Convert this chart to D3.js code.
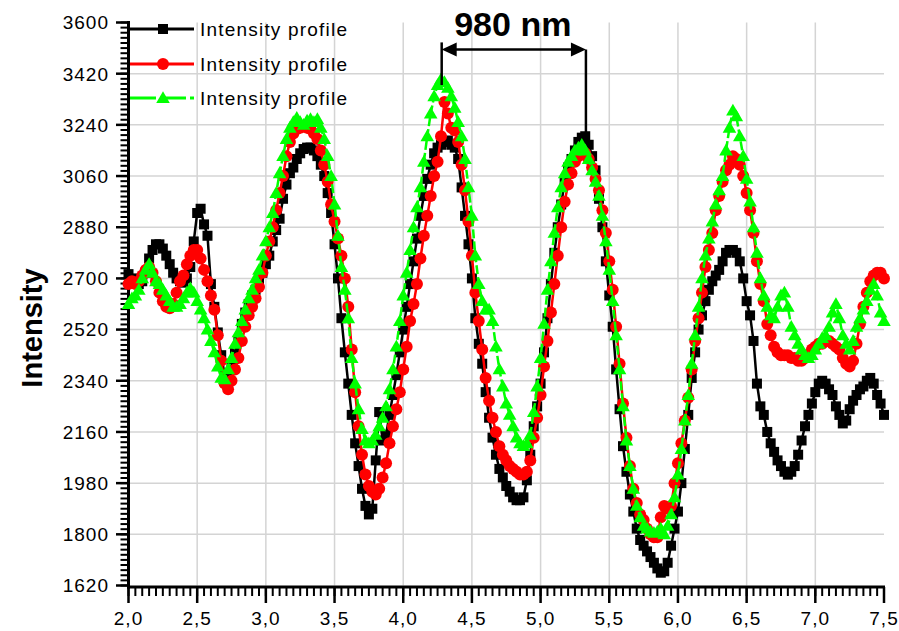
<!DOCTYPE html>
<html><head><meta charset="utf-8">
<script src="https://cdn.jsdelivr.net/npm/d3@7"></script>
<style>body{margin:0;background:#fff}svg{display:block}text{font-family:"Liberation Sans",Arial,sans-serif}</style>
</head><body><svg id="c" width="899" height="631"></svg>
<script>
// x positions: 2.000 .. 7.500 in steps of 0.025 (221 samples)
const xStart = 2.0, xStep = 0.025;
const blackVals = [
2715,2700,2690,2680,2690,2720,2770,2800,2820,2820,
2805,2780,2750,2720,2700,2690,2685,2700,2740,2830,
2930,2945,2890,2850,2680,2600,2510,2430,2360,2350,
2400,2440,2480,2540,2580,2610,2640,2660,2690,2720,
2750,2780,2830,2870,2910,2980,3030,3070,3090,3120,
3140,3155,3160,3160,3150,3130,3100,3060,3000,2930,
2820,2700,2560,2440,2330,2220,2120,2040,1960,1900,
1870,1890,2060,2230,2130,2150,2220,2290,2360,2440,
2520,2600,2680,2760,2840,2920,2990,3050,3100,3140,
3160,3170,3180,3185,3170,3160,3120,3020,2920,2820,
2700,2560,2470,2400,2300,2210,2140,2080,2030,2000,
1970,1950,1930,1920,1920,1930,1990,2080,2180,2250,
2330,2440,2560,2680,2790,2880,2960,3040,3090,3120,
3150,3180,3195,3200,3170,3130,3080,2980,2880,2760,
2640,2530,2380,2240,2110,2020,1940,1880,1820,1780,
1760,1740,1720,1700,1680,1665,1670,1700,1760,1820,
1880,1980,2100,2220,2350,2440,2520,2570,2620,2660,
2690,2710,2730,2760,2790,2800,2800,2790,2760,2700,
2620,2570,2480,2330,2250,2220,2160,2120,2090,2060,
2040,2020,2010,2020,2040,2080,2130,2180,2220,2260,
2300,2330,2340,2330,2310,2290,2250,2220,2190,2200,
2240,2270,2290,2310,2320,2340,2350,2330,2290,2260,
2220];
const redVals = [
2680,2690,2680,2690,2710,2730,2740,2720,2690,2650,
2620,2600,2595,2610,2650,2690,2710,2750,2780,2800,
2800,2770,2730,2690,2640,2590,2500,2410,2330,2310,
2340,2380,2420,2480,2530,2570,2600,2630,2670,2720,
2780,2830,2880,2940,3000,3060,3130,3180,3210,3225,
3230,3235,3230,3225,3210,3190,3150,3100,3040,2960,
2900,2840,2780,2700,2600,2450,2300,2180,2080,2010,
1970,1950,1940,1960,2000,2050,2120,2180,2240,2300,
2380,2460,2550,2610,2680,2770,2850,2920,2990,3060,
3110,3200,3320,3280,3230,3220,3180,3100,3010,2900,
2780,2650,2550,2450,2350,2270,2210,2160,2110,2080,
2060,2040,2030,2020,2010,2010,2020,2060,2140,2210,
2290,2390,2480,2580,2680,2780,2880,2970,3030,3070,
3110,3130,3140,3140,3120,3090,3050,3010,2940,2860,
2760,2660,2530,2400,2260,2140,2040,1960,1910,1870,
1850,1820,1800,1790,1790,1860,1900,1890,1900,1980,
2050,2120,2200,2280,2380,2480,2560,2650,2740,2800,
2860,2940,2990,3040,3080,3100,3130,3120,3100,3060,
3000,2940,2860,2760,2680,2620,2540,2500,2460,2440,
2430,2430,2430,2420,2420,2410,2410,2420,2430,2450,
2460,2470,2470,2480,2480,2470,2460,2450,2420,2400,
2390,2410,2470,2540,2600,2650,2690,2710,2720,2720,
2700];
const greenVals = [
2610,2630,2640,2660,2700,2730,2750,2720,2690,2680,
2660,2640,2620,2600,2600,2610,2630,2650,2665,2650,
2620,2590,2560,2520,2480,2440,2390,2350,2345,2380,
2420,2470,2510,2550,2590,2630,2660,2700,2730,2780,
2830,2880,2930,3000,3070,3130,3190,3230,3250,3265,
3250,3240,3255,3260,3250,3260,3230,3190,3130,3060,
2960,2850,2740,2660,2560,2420,2330,2240,2170,2130,
2120,2130,2150,2180,2210,2250,2310,2380,2460,2550,
2640,2720,2800,2880,2950,3020,3110,3200,3280,3340,
3380,3400,3390,3370,3340,3300,3250,3200,3120,3020,
2920,2780,2680,2620,2590,2590,2550,2460,2380,2320,
2260,2220,2180,2140,2120,2110,2120,2150,2230,2320,
2420,2540,2660,2760,2860,2950,3020,3070,3110,3130,
3150,3160,3170,3150,3120,3080,3040,2990,2920,2830,
2730,2620,2500,2380,2250,2130,2040,1960,1900,1860,
1830,1820,1810,1805,1810,1820,1800,1830,1870,1930,
2010,2100,2200,2290,2400,2500,2600,2700,2780,2840,
2900,2960,3010,3060,3150,3230,3290,3270,3200,3130,
3050,2970,2880,2790,2700,2640,2600,2570,2560,2600,
2640,2650,2600,2530,2500,2470,2450,2430,2420,2430,
2450,2470,2490,2500,2530,2580,2610,2560,2500,2470,
2450,2480,2530,2560,2590,2620,2660,2680,2640,2580,
2550];
const seriesNames = ["Intensity profile","Intensity profile","Intensity profile"];
const xTickVals = [2.0,2.5,3.0,3.5,4.0,4.5,5.0,5.5,6.0,6.5,7.0,7.5];
const xTickLabels = ["2,0","2,5","3,0","3,5","4,0","4,5","5,0","5,5","6,0","6,5","7,0","7,5"];
const yTickVals = [1620,1800,1980,2160,2340,2520,2700,2880,3060,3240,3420,3600];
const yTitle = "Intensity";
const annText = "980 nm";
const annX = [4.28, 5.33];
const annArrowY = 3505;
const annLeftV = [3530, 3380];
const annRightV = [3505, 3200];

const svg = d3.select("#c");
const x = d3.scaleLinear().domain([2, 7.5]).range([128.5, 884]);
const y = d3.scaleLinear().domain([1620, 3600]).range([585.5, 22.5]);

// grid
const gridC = "#d4d4d4";
svg.append("g").selectAll("line").data(xTickVals.filter(v => v > 2 && v < 7.5)).join("line")
  .attr("x1", d => x(d)).attr("x2", d => x(d)).attr("y1", y(3600)).attr("y2", y(1620))
  .attr("stroke", gridC).attr("stroke-width", 1.5);
svg.append("g").selectAll("line").data(yTickVals.filter(v => v > 1620 && v < 3600)).join("line")
  .attr("x1", x(2)).attr("x2", x(7.5)).attr("y1", d => y(d)).attr("y2", d => y(d))
  .attr("stroke", gridC).attr("stroke-width", 1.5);

// axes
const yMinor = d3.range(1620, 3600.1, 18);
const xMinor = d3.range(0, 111).map(i => 2 + i * 0.05);
const axisY0 = 587;
const yAx = svg.append("g");
yAx.selectAll("line.mn").data(yMinor).join("line").attr("class","mn")
  .attr("x1", 120.5).attr("x2", 129).attr("y1", d => y(d)).attr("y2", d => y(d))
  .attr("stroke", "#000").attr("stroke-width", 2);
yAx.selectAll("line.mj").data(yTickVals).join("line").attr("class","mj")
  .attr("x1", 116).attr("x2", 129).attr("y1", d => y(d)).attr("y2", d => y(d))
  .attr("stroke", "#000").attr("stroke-width", 2.5);
yAx.append("line").attr("x1", 128.5).attr("x2", 128.5).attr("y1", 21).attr("y2", axisY0 + 1.5)
  .attr("stroke", "#000").attr("stroke-width", 3);
yAx.selectAll("text").data(yTickVals).join("text")
  .attr("x", 109).attr("y", d => y(d)).attr("dy", "0.36em").attr("text-anchor", "end")
  .attr("font-size", 19).attr("letter-spacing", 1).text(d => d);

const xAx = svg.append("g");
xAx.selectAll("line.mn").data(xMinor).join("line").attr("class","mn")
  .attr("x1", d => x(d)).attr("x2", d => x(d)).attr("y1", axisY0).attr("y2", axisY0 + 9)
  .attr("stroke", "#000").attr("stroke-width", 2);
xAx.selectAll("line.mj").data(xTickVals).join("line").attr("class","mj")
  .attr("x1", d => x(d)).attr("x2", d => x(d)).attr("y1", axisY0).attr("y2", axisY0 + 16)
  .attr("stroke", "#000").attr("stroke-width", 2.5);
xAx.append("line").attr("x1", 127).attr("x2", 885).attr("y1", axisY0).attr("y2", axisY0)
  .attr("stroke", "#000").attr("stroke-width", 3);
xAx.selectAll("text").data(xTickVals).join("text")
  .attr("x", d => x(d)).attr("y", 625).attr("text-anchor", "middle")
  .attr("font-size", 19).attr("letter-spacing", 1).text((d, i) => xTickLabels[i]);

svg.append("text").attr("transform", "translate(42,328) rotate(-90)")
  .attr("text-anchor", "middle").attr("font-size", 29).attr("font-weight", "bold").text(yTitle);

// series
const tri = d3.symbol().type(d3.symbolTriangle).size(80)();
const series = [
  {vals: blackVals, color: "#000000", shape: "square", dash: null},
  {vals: redVals, color: "#ff0000", shape: "circle", dash: null},
  {vals: greenVals, color: "#00ff00", shape: "triangle", dash: "9,3"}
];
function drawMarker(g, shape, color, cx, cy) {
  if (shape === "square") g.append("rect").attr("x", cx - 5).attr("y", cy - 5).attr("width", 10).attr("height", 10).attr("fill", color);
  else if (shape === "circle") g.append("circle").attr("cx", cx).attr("cy", cy).attr("r", 6).attr("fill", color);
  else g.append("path").attr("d", tri).attr("transform", `translate(${cx},${cy + 1})`).attr("fill", color);
}
const line = d3.line().x((d, i) => x(xStart + i * xStep)).y(d => y(d));
series.forEach(s => {
  const g = svg.append("g");
  g.append("path").attr("d", line(s.vals)).attr("fill", "none").attr("stroke", s.color)
    .attr("stroke-width", 2.5).attr("stroke-dasharray", s.dash);
  s.vals.forEach((v, i) => drawMarker(g, s.shape, s.color, x(xStart + i * xStep), y(v)));
});

// legend
const legY = [29, 64, 98];
series.forEach((s, i) => {
  const g = svg.append("g");
  g.append("line").attr("x1", 130).attr("x2", 194).attr("y1", legY[i]).attr("y2", legY[i])
    .attr("stroke", s.color).attr("stroke-width", 3).attr("stroke-dasharray", s.dash ? "26,4" : null);
  drawMarker(g, s.shape, s.color, 163, legY[i]);
  g.append("text").attr("x", 200).attr("y", legY[i] + 7).attr("font-size", 19)
    .attr("letter-spacing", 1.2).text(seriesNames[i]);
});

// annotation
const ag = svg.append("g");
const ay = y(annArrowY), xl = x(annX[0]), xr = x(annX[1]);
ag.append("line").attr("x1", xl).attr("x2", xl).attr("y1", y(annLeftV[0])).attr("y2", y(annLeftV[1]))
  .attr("stroke", "#000").attr("stroke-width", 2.5);
ag.append("line").attr("x1", xr).attr("x2", xr).attr("y1", y(annRightV[0])).attr("y2", y(annRightV[1]))
  .attr("stroke", "#000").attr("stroke-width", 2.5);
ag.append("line").attr("x1", xl + 10).attr("x2", xr - 10).attr("y1", ay).attr("y2", ay)
  .attr("stroke", "#000").attr("stroke-width", 2.5);
ag.append("path").attr("d", `M${xl},${ay}L${xl + 15},${ay - 7}L${xl + 15},${ay + 7}Z`).attr("fill", "#000");
ag.append("path").attr("d", `M${xr},${ay}L${xr - 15},${ay - 7}L${xr - 15},${ay + 7}Z`).attr("fill", "#000");
ag.append("text").attr("x", (xl + xr) / 2 - 1).attr("y", 36).attr("text-anchor", "middle")
  .attr("font-size", 34).attr("font-weight", "bold").text(annText);
</script></body></html>
